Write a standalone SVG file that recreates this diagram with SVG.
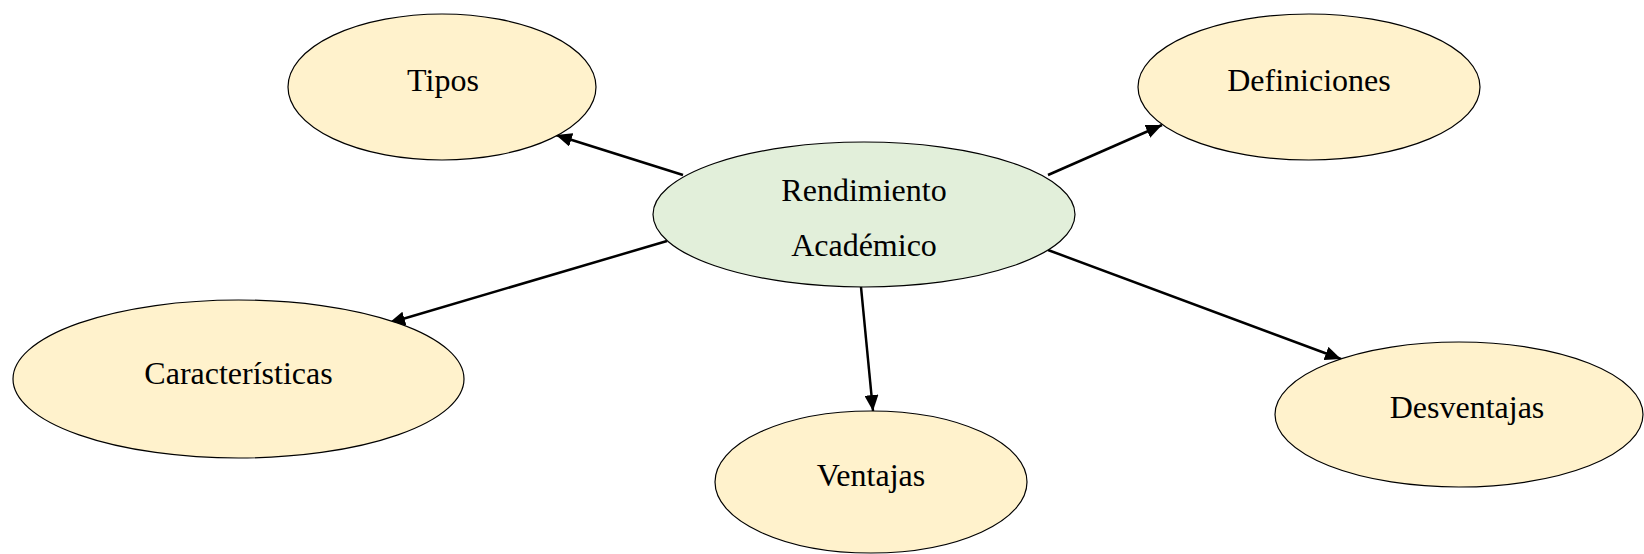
<svg xmlns="http://www.w3.org/2000/svg" width="1644" height="554" viewBox="0 0 1644 554">
<style>
.n{fill:#FFF2CC;stroke:#000;stroke-width:1.2}
.c{fill:#E2EFDA;stroke:#000;stroke-width:1.2}
text{font-family:"Liberation Serif","Times New Roman",serif;font-size:32px;fill:#000;text-anchor:middle}
.e{stroke:#000;stroke-width:2.5;fill:none;marker-end:url(#ah)}
</style>
<defs>
<marker id="ah" markerUnits="userSpaceOnUse" markerWidth="16" markerHeight="14" viewBox="0 0 16 14" refX="16" refY="7" orient="auto">
<path d="M0,0 L16,7 L0,14 Z" fill="#000"/>
</marker>
</defs>
<rect width="1644" height="554" fill="#fff"/>
<g id="connectors">
<line class="e" x1="683" y1="175" x2="556" y2="135"/>
<line class="e" x1="1048" y1="175" x2="1162" y2="125"/>
<line class="e" x1="667" y1="241" x2="389" y2="323"/>
<line class="e" x1="861" y1="287" x2="873" y2="411"/>
<line class="e" x1="1048" y1="250" x2="1341" y2="359"/>
</g>
<g id="center">
<ellipse class="c" cx="864" cy="214.5" rx="211" ry="72.5"/>
<text x="864" y="201">Rendimiento</text>
<text x="864" y="256">Académico</text>
</g>
<g id="tipos">
<ellipse class="n" cx="442" cy="87" rx="154" ry="73"/>
<text x="443" y="91">Tipos</text>
</g>
<g id="definiciones">
<ellipse class="n" cx="1309" cy="87" rx="171" ry="73"/>
<text x="1309" y="91">Definiciones</text>
</g>
<g id="caracteristicas">
<ellipse class="n" cx="238.5" cy="379" rx="225.5" ry="79"/>
<text x="238.5" y="384">Características</text>
</g>
<g id="ventajas">
<ellipse class="n" cx="871" cy="482" rx="156" ry="71"/>
<text x="871" y="486">Ventajas</text>
</g>
<g id="desventajas">
<ellipse class="n" cx="1459" cy="414.5" rx="184" ry="72.5"/>
<text x="1467" y="418">Desventajas</text>
</g>
</svg>
